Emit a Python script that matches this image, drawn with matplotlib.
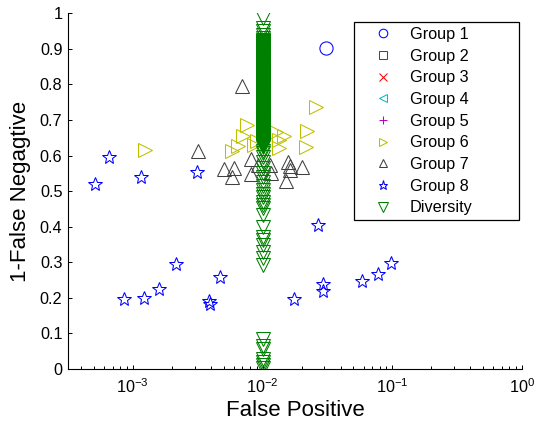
import numpy as np
import matplotlib
matplotlib.use("Agg")
import matplotlib.pyplot as plt
from matplotlib.ticker import FixedLocator, FuncFormatter, LogLocator

plt.rcParams["font.family"] = ["Liberation Sans", "DejaVu Sans"]
plt.rcParams["mathtext.fontset"] = "custom"
plt.rcParams["mathtext.rm"] = "Liberation Sans"
plt.rcParams["mathtext.it"] = "Liberation Sans:italic"
plt.rcParams["mathtext.bf"] = "Liberation Sans:bold"

# ---- data: (false positive rate, 1 - false negative rate) per group ----
group1_fp = [0.0307]
group1_tp = [0.902]

group2_fp, group2_tp = [], []
group3_fp, group3_tp = [], []
group4_fp, group4_tp = [], []
group5_fp, group5_tp = [], []

group6_fp = [0.00124, 0.0058, 0.0065, 0.0071, 0.0076, 0.0086, 0.0090,
             0.0128, 0.0135, 0.0135, 0.0145, 0.0216, 0.0221, 0.0258]
group6_tp = [0.616, 0.612, 0.626, 0.655, 0.685, 0.630, 0.640,
             0.665, 0.645, 0.620, 0.655, 0.625, 0.670, 0.736]

group7_fp = [0.0032, 0.0069, 0.0050, 0.0060, 0.0058, 0.0082, 0.0081, 0.0093,
             0.0114, 0.0117, 0.0158, 0.0163, 0.0163, 0.0200, 0.0152]
group7_tp = [0.614, 0.796, 0.561, 0.564, 0.539, 0.548, 0.590, 0.573,
             0.573, 0.550, 0.583, 0.571, 0.559, 0.569, 0.529]

group8_fp = [0.00051, 0.00066, 0.00115, 0.0031, 0.00086, 0.00122, 0.0016,
             0.00214, 0.00385, 0.00395, 0.0047, 0.0176, 0.0266, 0.029,
             0.029, 0.058, 0.078, 0.097]
group8_tp = [0.519, 0.597, 0.541, 0.553, 0.196, 0.200, 0.224,
             0.294, 0.192, 0.184, 0.258, 0.196, 0.406, 0.238,
             0.219, 0.247, 0.266, 0.297]

# diversity runs all sit at a false positive rate of 1%
diversity_tp = [
    0.987, 0.958, 0.949, 0.940, 0.931,
    0.924, 0.922, 0.921, 0.919, 0.918, 0.917, 0.916, 0.914, 0.913, 0.911,
    0.909, 0.908, 0.907, 0.905, 0.904, 0.902, 0.901, 0.899, 0.898, 0.897,
    0.896, 0.894, 0.893, 0.891, 0.890, 0.888, 0.887, 0.886, 0.884, 0.883,
    0.882, 0.880, 0.879, 0.877, 0.876, 0.875, 0.873, 0.872, 0.870, 0.869,
    0.868, 0.866, 0.865, 0.864, 0.862, 0.861, 0.859, 0.858, 0.856, 0.855,
    0.854, 0.852, 0.851, 0.850, 0.848, 0.847, 0.845, 0.844, 0.842, 0.841,
    0.840, 0.838, 0.837, 0.835, 0.834, 0.833, 0.831, 0.830, 0.829, 0.827,
    0.826, 0.824, 0.823, 0.822, 0.820, 0.819, 0.817, 0.816, 0.815, 0.813,
    0.812, 0.810, 0.809, 0.808, 0.806, 0.805, 0.803, 0.802, 0.801, 0.799,
    0.798, 0.796, 0.795, 0.793, 0.792, 0.791, 0.789, 0.788, 0.787, 0.785,
    0.784, 0.782, 0.781, 0.780, 0.778, 0.777, 0.776, 0.774, 0.773, 0.771,
    0.770, 0.768, 0.767, 0.766, 0.764, 0.763, 0.762, 0.760, 0.759, 0.757,
    0.756, 0.755, 0.753, 0.752, 0.750, 0.749, 0.748, 0.746, 0.745, 0.743,
    0.742, 0.741, 0.739, 0.738, 0.736, 0.735, 0.734, 0.732, 0.731, 0.729,
    0.728, 0.727, 0.725, 0.724, 0.723, 0.721, 0.720, 0.718, 0.717, 0.716,
    0.714, 0.713, 0.711, 0.710, 0.709, 0.707, 0.706, 0.704, 0.703, 0.702,
    0.700, 0.699, 0.697, 0.696, 0.695, 0.693, 0.692, 0.690, 0.689, 0.688,
    0.686, 0.685, 0.683, 0.682, 0.681, 0.679, 0.678, 0.676, 0.675, 0.674,
    0.672, 0.671, 0.669, 0.668, 0.667, 0.665, 0.664, 0.662, 0.661, 0.660,
    0.658, 0.657, 0.655, 0.654, 0.653, 0.651, 0.650, 0.648, 0.647, 0.646,
    0.644, 0.643, 0.641, 0.640, 0.639, 0.637, 0.636, 0.634, 0.633, 0.632,
    0.630, 0.629, 0.627, 0.626, 0.625,
    0.613, 0.606, 0.597, 0.583, 0.564, 0.552, 0.539, 0.527, 0.514, 0.503,
    0.492, 0.483, 0.470, 0.461, 0.452, 0.433, 0.398, 0.372, 0.363, 0.349,
    0.330, 0.311, 0.292,
    0.083, 0.065, 0.056, 0.028, 0.020, 0.012, 0.004,
]
diversity_fp = [0.01] * len(diversity_tp)

labels = ["Group 1", "Group 2", "Group 3", "Group 4", "Group 5",
          "Group 6", "Group 7", "Group 8", "Diversity"]

# ---- figure ----
fig = plt.figure(figsize=(5.42, 4.21), dpi=100)
ax = fig.add_axes([68 / 542, 52 / 421, 454 / 542, 355.7 / 421])

mew = 0.75
series = [
    (group1_fp, group1_tp, "o", (0, 0, 1), 9.5),
    (group2_fp, group2_tp, "s", (0, 0.5, 0), 8.0),
    (group3_fp, group3_tp, "x", (1, 0, 0), 8.0),
    (group4_fp, group4_tp, "<", (0, 0.75, 0.75), 9.5),
    (group5_fp, group5_tp, "+", (0.75, 0, 0.75), 9.5),
    (group6_fp, group6_tp, ">", (0.75, 0.75, 0), 9.5),
    (group7_fp, group7_tp, "^", (0.25, 0.25, 0.25), 9.5),
    (group8_fp, group8_tp, "*", (0, 0, 1), 10.0),
    (diversity_fp, diversity_tp, "v", (0, 0.5, 0), 10.0),
]
for (xs, ys, mk, col, ms), lab in zip(series, labels):
    ax.plot(xs, ys, linestyle="none", marker=mk, markersize=ms,
            markerfacecolor="none", markeredgecolor=col,
            markeredgewidth=mew, label=lab)

ax.set_xscale("log")
ax.set_xlim(10 ** -3.5, 1)
ax.set_ylim(0, 1)

ax.xaxis.set_major_locator(FixedLocator([1e-3, 1e-2, 1e-1, 1e0]))
ax.xaxis.set_minor_locator(LogLocator(base=10, subs=np.arange(2, 10)))
ax.yaxis.set_major_locator(FixedLocator(np.round(np.arange(0, 1.01, 0.1), 1)))
ax.yaxis.set_major_formatter(FuncFormatter(lambda v, p: "%g" % v))

for side in ("top", "right"):
    ax.spines[side].set_visible(False)
for side in ("left", "bottom"):
    ax.spines[side].set_linewidth(0.8)

ax.tick_params(which="both", direction="in", width=0.7, labelsize=11.7,
               top=False, right=False)
ax.tick_params(which="major", length=3.0, pad=4)
ax.tick_params(which="minor", length=2.2)
ax.tick_params(axis="x", which="major", pad=6)

ax.set_xlabel("False Positive", fontsize=16, labelpad=3)
ax.set_ylabel("1-False Negagtive", fontsize=16, labelpad=6)

leg = ax.legend(loc="upper left", bbox_to_anchor=(0.63, 0.0, 0.3634, 0.9755),
                mode="expand", borderaxespad=0, fontsize=11.7,
                markerscale=0.65, handlelength=3.0, handletextpad=0.15,
                borderpad=0.3, labelspacing=0.41, fancybox=False,
                framealpha=1, edgecolor="black")
leg.get_frame().set_linewidth(0.9)

fig.savefig("out.png", dpi=100)
